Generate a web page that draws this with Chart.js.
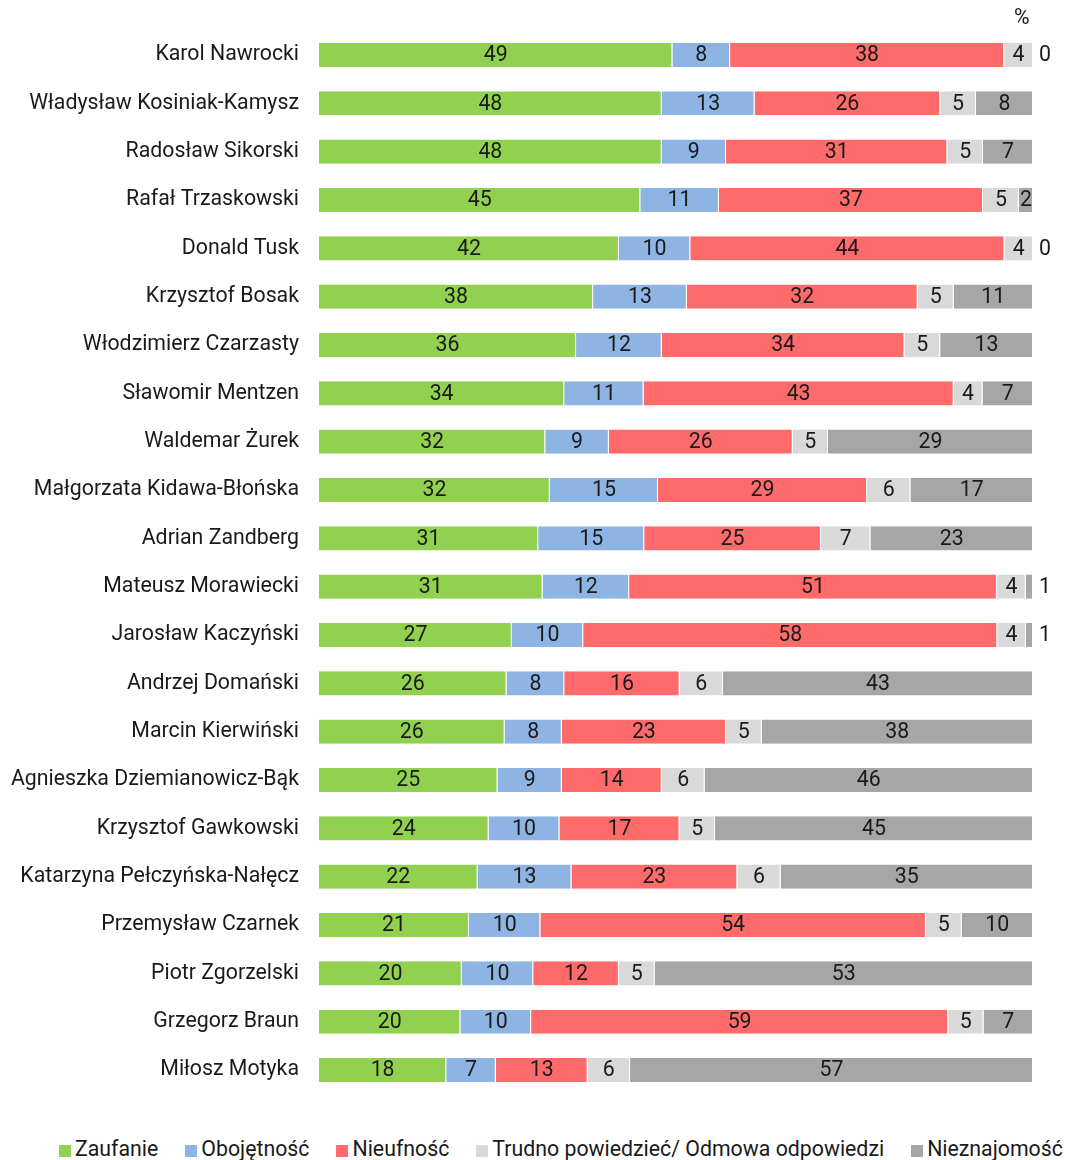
<!DOCTYPE html>
<html>
<head>
<meta charset="utf-8">
<script src="https://cdn.jsdelivr.net/npm/chart.js@4.4.1/dist/chart.umd.min.js"></script>
<style>
    body { margin: 0; background: #fff; font-family: Roboto, sans-serif; color: #1a1a1a; }
    #wrap { position: relative; width: 1067px; height: 1160px; overflow: hidden; }
    #box { position: absolute; left: 0; top: -2px; width: 1067px; height: 1129px; }
    #unit { position: absolute; left: 1014px; top: 4px; font-size: 21.3px; }
    #legend { position: absolute; left: 59px; top: 1136px; display: flex; font-size: 21.3px; white-space: nowrap; }
    #legend span.item { display: flex; align-items: center; margin-right: 27px; }
    #legend span.sw { width: 12px; height: 12px; margin-right: 4px; margin-top: 4px; display: inline-block; }
</style>
</head>
<body>
<div id="wrap">
    <div id="box"><canvas id="chart"></canvas></div>
    <div id="unit">%</div>
    <div id="legend"></div>
</div>
<script>
// names shown on the y axis
const people = [
    'Karol Nawrocki', 'Władysław Kosiniak-Kamysz', 'Radosław Sikorski', 'Rafał Trzaskowski',
    'Donald Tusk', 'Krzysztof Bosak', 'Włodzimierz Czarzasty', 'Sławomir Mentzen',
    'Waldemar Żurek', 'Małgorzata Kidawa-Błońska', 'Adrian Zandberg', 'Mateusz Morawiecki',
    'Jarosław Kaczyński', 'Andrzej Domański', 'Marcin Kierwiński', 'Agnieszka Dziemianowicz-Bąk',
    'Krzysztof Gawkowski', 'Katarzyna Pełczyńska-Nałęcz', 'Przemysław Czarnek', 'Piotr Zgorzelski',
    'Grzegorz Braun', 'Miłosz Motyka'
];

// answers in percent, one value per person
const zaufanie     = [49, 48, 48, 45, 42, 38, 36, 34, 32, 32, 31, 31, 27, 26, 26, 25, 24, 22, 21, 20, 20, 18];
const obojetnosc   = [8, 13, 9, 11, 10, 13, 12, 11, 9, 15, 15, 12, 10, 8, 8, 9, 10, 13, 10, 10, 10, 7];
const nieufnosc    = [38, 26, 31, 37, 44, 32, 34, 43, 26, 29, 25, 51, 58, 16, 23, 14, 17, 23, 54, 12, 59, 13];
const trudno       = [4, 5, 5, 5, 4, 5, 5, 4, 5, 6, 7, 4, 4, 6, 5, 6, 5, 6, 5, 5, 5, 6];
const nieznajomosc = [0, 8, 7, 2, 0, 11, 13, 7, 29, 17, 23, 1, 1, 43, 38, 46, 45, 35, 10, 53, 7, 57];

const seriesNames = ['Zaufanie', 'Obojętność', 'Nieufność', 'Trudno powiedzieć/ Odmowa odpowiedzi', 'Nieznajomość'];
const seriesValues = [zaufanie, obojetnosc, nieufnosc, trudno, nieznajomosc];
const seriesColors = ['#92d050', '#8eb4e3', '#ff6b6b', '#d9d9d9', '#a6a6a6'];

// each row is stretched to full width (rounded values do not always add up to 100)
const rowTotals = people.map((p, i) => seriesValues.reduce((s, arr) => s + arr[i], 0));

// Draw the numbers inside the segments (tiny ones go right of the bar)
const valueLabels = {
    id: 'valueLabels',
    afterDatasetsDraw(chart) {
        const ctx = chart.ctx;
        const area = chart.chartArea;
        ctx.save();
        ctx.font = '21.3px Roboto';
        ctx.fillStyle = '#1a1a1a';
        ctx.textBaseline = 'middle';
        chart.data.datasets.forEach((ds, di) => {
            const meta = chart.getDatasetMeta(di);
            meta.data.forEach((bar, i) => {
                const v = ds.rawValues[i];
                if (v <= 1) {
                    ctx.textAlign = 'left';
                    ctx.fillText(String(v), area.right + 6, bar.y + 1);
                } else {
                    ctx.textAlign = 'center';
                    ctx.fillText(String(v), (bar.x + bar.base) / 2, bar.y + 1);
                }
            });
        });
        ctx.restore();
    }
};

const ctx = document.getElementById('chart').getContext('2d');
const chart = new Chart(ctx, {
    type: 'bar',
    data: {
        labels: people,
        datasets: seriesNames.map((name, k) => ({
            label: name,
            rawValues: seriesValues[k],
            data: seriesValues[k].map((v, i) => v / rowTotals[i] * 100),
            backgroundColor: seriesColors[k],
            borderColor: '#ffffff',
            borderWidth: { left: 0, right: 1, top: 0, bottom: 0 },
            borderSkipped: false,
            categoryPercentage: 0.5,
            barPercentage: 1
        }))
    },
    options: {
        indexAxis: 'y',
        responsive: true,
        maintainAspectRatio: false,
        animation: false,
        layout: { padding: { top: 28, right: 34, bottom: 3, left: 0 } },
        plugins: {
            legend: { display: false },
            tooltip: { enabled: false }
        },
        scales: {
            x: {
                stacked: true,
                min: 0,
                max: 100,
                display: false
            },
            y: {
                stacked: true,
                grid: { display: false, drawTicks: false, tickLength: 0 },
                border: { display: false },
                ticks: {
                    padding: 20,
                    color: '#1a1a1a',
                    font: { family: 'Roboto', size: 21.3 }
                },
                afterFit(scale) {
                    scale.width = 319;
                }
            }
        }
    },
    plugins: [valueLabels]
});

// Legend under the chart
const legendDiv = document.getElementById('legend');
seriesNames.forEach((name, k) => {
    const item = document.createElement('span');
    item.className = 'item';
    item.innerHTML = `<span class="sw" style="background:${seriesColors[k]}"></span>${name}`;
    legendDiv.appendChild(item);
});
</script>
</body>
</html>
